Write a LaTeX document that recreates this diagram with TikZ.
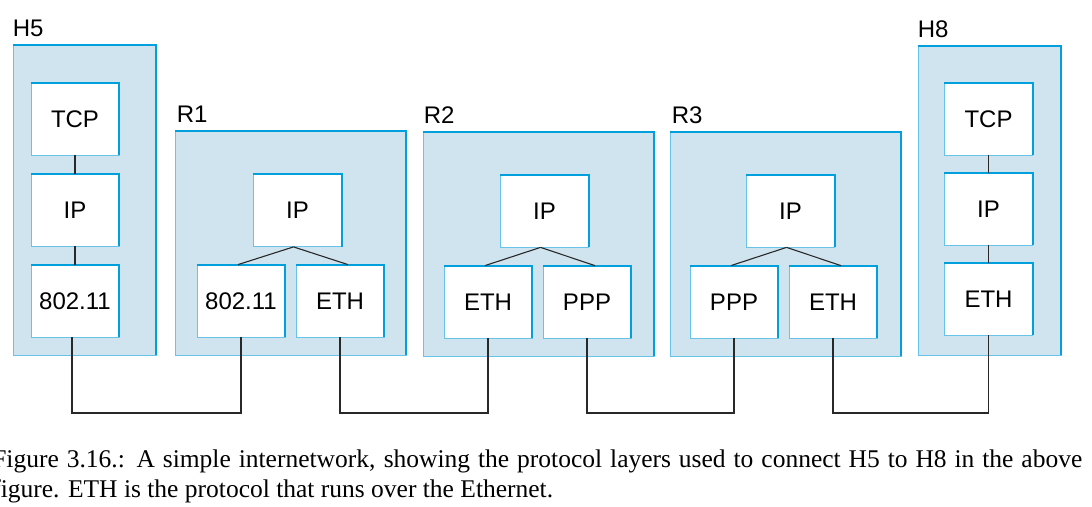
\documentclass[tikz,border=0pt]{standalone}
\usepackage{fontspec}
\setmainfont{Liberation Serif}
\setsansfont{Liberation Sans}
\usepackage{tikz}
\usetikzlibrary{positioning,calc}

\definecolor{boxfill}{RGB}{208,228,239}
\definecolor{rimblue}{RGB}{0,160,220}
\definecolor{thinblue}{RGB}{105,195,232}
\definecolor{wire}{RGB}{40,40,40}

\begin{document}
\begin{tikzpicture}[x=1pt,y=-1pt,node distance=91pt,semithick]

   \tikzstyle{device}=[draw=thinblue,fill=boxfill,line width=0.8pt,inner sep=0pt]
   \tikzstyle{proto}=[draw=thinblue,fill=white,line width=0.8pt,minimum width=88pt,minimum height=72pt,
       inner sep=0pt,font=\sffamily\fontsize{24}{28}\selectfont]
   \tikzstyle{rim}=[draw=rimblue,line width=2pt]
   \tikzstyle{tag}=[anchor=base west,inner sep=0pt,font=\sffamily\fontsize{24}{28}\selectfont]
   \tikzstyle{link}=[draw=wire,line width=1.1pt]

   % page frame
   \useasboundingbox (0,0) rectangle (1092,506);
   \coordinate (bus) at (0,413);

   % hosts and routers
   \node[device,minimum width=143pt,minimum height=310pt] at (84.5,200) (h5){};
   \node[device,minimum width=231pt,minimum height=224pt] at (290.5,243) (r1){};
   \node[device,minimum width=231pt,minimum height=224pt] at (538.5,244) (r2){};
   \node[device,minimum width=231pt,minimum height=224pt] at (785.5,244) (r3){};
   \node[device,minimum width=143pt,minimum height=309pt] at (989.5,200.5) (h8){};

   \node[tag] at ([yshift=8.5pt]h5.north west) {H5};
   \node[tag] at ([xshift=2pt,yshift=8.5pt]r1.north west) {R1};
   \node[tag] at ([xshift=1pt,yshift=8.5pt]r2.north west) {R2};
   \node[tag] at ([xshift=2pt,yshift=8.5pt]r3.north west) {R3};
   \node[tag] at ([yshift=8.5pt]h8.north west) {H8};

   % H5 stack
   \node[proto] (h5tcp) at (75,119) {TCP};
   \node[proto] (h5ip) [below of=h5tcp] {IP};
   \node[proto] (h5wlan) [below of=h5ip] {802.11};

   % R1
   \node[proto] (r1ip) at ([xshift=7pt,yshift=32.5pt]r1.center) {IP};
   \node[proto] (r1wlan) at ([xshift=-49.5pt,yshift=-58pt]r1.center) {802.11};
   \node[proto] (r1eth) [right of=r1wlan,node distance=99pt] {ETH};

   % R2
   \node[proto] (r2ip) at ([xshift=6pt,yshift=33pt]r2.center) {IP};
   \node[proto] (r2eth) at ([xshift=-50.5pt,yshift=-58pt]r2.center) {ETH};
   \node[proto] (r2ppp) [right of=r2eth,node distance=99pt] {PPP};

   % R3
   \node[proto] (r3ip) at ([xshift=5pt,yshift=33pt]r3.center) {IP};
   \node[proto] (r3ppp) at ([xshift=-51.5pt,yshift=-58pt]r3.center) {PPP};
   \node[proto] (r3eth) [right of=r3ppp,node distance=99pt] {ETH};

   % H8 stack
   \node[proto] (h8tcp) at (988.5,119) {TCP};
   \node[proto] (h8ip) [below of=h8tcp,node distance=90pt] {IP};
   \node[proto] (h8eth) [below of=h8ip,node distance=90pt] {ETH};

   % blue rim on top and right of every box
   \foreach \b in {h5,r1,r2,r3,h8,h5tcp,h5ip,h5wlan,r1ip,r1wlan,r1eth,r2ip,r2eth,r2ppp,
                   r3ip,r3ppp,r3eth,h8tcp,h8ip,h8eth}
      \draw[rim] (\b.north west) -- (\b.north east) -- (\b.south east);

   \draw[link] (h5tcp) -- (h5ip);
   \draw[link] (h5ip) -- (h5wlan);
   \draw[link] (h8tcp) -- (h8ip);
   \draw[link] (h8ip) -- (h8eth);

   \draw[link] ([xshift=-4pt]r1ip.south) -- ([xshift=-3pt]r1wlan.north);
   \draw[link] ([xshift=-4pt]r1ip.south) -- ([xshift=8pt]r1eth.north);
   \draw[link] ([xshift=-4pt]r2ip.south) -- ([xshift=-3pt]r2eth.north);
   \draw[link] ([xshift=-4pt]r2ip.south) -- ([xshift=8pt]r2ppp.north);
   \draw[link] ([xshift=-4pt]r3ip.south) -- ([xshift=-3pt]r3ppp.north);
   \draw[link] ([xshift=-4pt]r3ip.south) -- ([xshift=8pt]r3eth.north);

   % physical links
   \draw[link] ([xshift=-3pt]h5wlan.south) -- ([xshift=-3pt]h5wlan.south |- bus) -| (r1wlan.south);
   \draw[link] (r1eth.south) -- (r1eth.south |- bus) -| (r2eth.south);
   \draw[link] (r2ppp.south) -- (r2ppp.south |- bus) -| (r3ppp.south);
   \draw[link] (r3eth.south) -- (r3eth.south |- bus) -| (h8eth.south);

   % caption
   \node[anchor=north west,inner sep=0pt,text width=1090pt,align=justify,
       font=\fontsize{25.5}{30}\selectfont] (caption) at (-8,449.5)
       {Figure 3.16.: A simple internetwork, showing the protocol layers used to connect H5 to H8 in the above\linebreak
        figure. ETH is the protocol that runs over the Ethernet.};

\end{tikzpicture}
\end{document}
